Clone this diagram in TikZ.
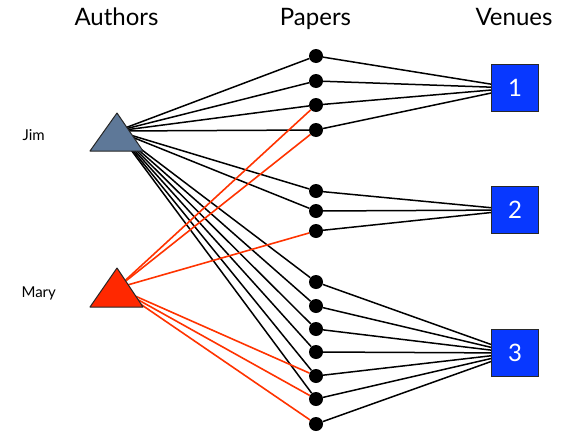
\documentclass[tikz,border=0pt]{standalone}
\usepackage{fontspec}
\setmainfont{Lato}
\usetikzlibrary{backgrounds}
\definecolor{jimblue}{RGB}{94,120,152}
\definecolor{maryred}{RGB}{255,40,0}
\definecolor{redline}{RGB}{255,51,0}
\definecolor{boxblue}{RGB}{8,56,255}
\definecolor{boxborder}{RGB}{40,40,40}
\begin{document}
\begin{tikzpicture}[x=1pt,y=-1pt,
  dot/.style={circle,fill=black,inner sep=0pt,minimum size=14pt},
  venue/.style={draw=boxborder,line width=1pt,fill=boxblue,minimum size=47pt,inner sep=0pt,text=white,font=\fontsize{24}{24}\selectfont},
  header/.style={anchor=base,font=\fontsize{24}{28}\selectfont},
  person/.style={anchor=base west,font=\fontsize{15}{18}\selectfont},
  jimedge/.style={black,line width=1.5pt},
  maryedge/.style={redline,line width=1.6pt},
  authortri/.style={draw=black!85,line width=1pt,line join=round}]
\useasboundingbox (0,0) rectangle (565,434);

% headers
\node[header] (hA) at (116.5,25) {Authors};
\node[header] (hP) at (315.5,25) {Papers};
\node[header] (hV) at (514,25) {Venues};

% author names
\node[person] (njim) at (19,140) {Jim};
\node[person] (nmary) at (18,297) {Mary};

% hubs
\coordinate (jim) at (117,131);
\coordinate (mary) at (117,288);

% papers
\foreach \i/\y in {1/56,2/81,3/105,4/130,5/191,6/211,7/231,8/282,9/306,10/329,11/352,12/376,13/399,14/424}
  \node[dot] (p\i) at (316,\y) {};

% venues
\node[venue] (v1) at (515,88) {1};
\node[venue] (v2) at (515,210) {2};
\node[venue] (v3) at (515,353) {3};

\begin{scope}[on background layer]
  \foreach \p in {1,...,4} \draw[jimedge] (p\p) -- (v1);
  \foreach \p in {5,6,7} \draw[jimedge] (p\p) -- (v2);
  \foreach \p in {8,...,14} \draw[jimedge] (p\p) -- (v3);
  \foreach \p in {1,2,3,4,5,6,8,9,10,11,12,13} \draw[jimedge] (jim) -- (p\p);
  \foreach \p in {3,4,7,12,13,14} \draw[maryedge] (mary) -- (p\p);
\end{scope}

% author triangles
\draw[authortri,fill=jimblue] (90,151) -- (117,113) -- (143,151) -- cycle;
\draw[authortri,fill=maryred] (90,307) -- (117,268) -- (143,307) -- cycle;
\end{tikzpicture}
\end{document}
